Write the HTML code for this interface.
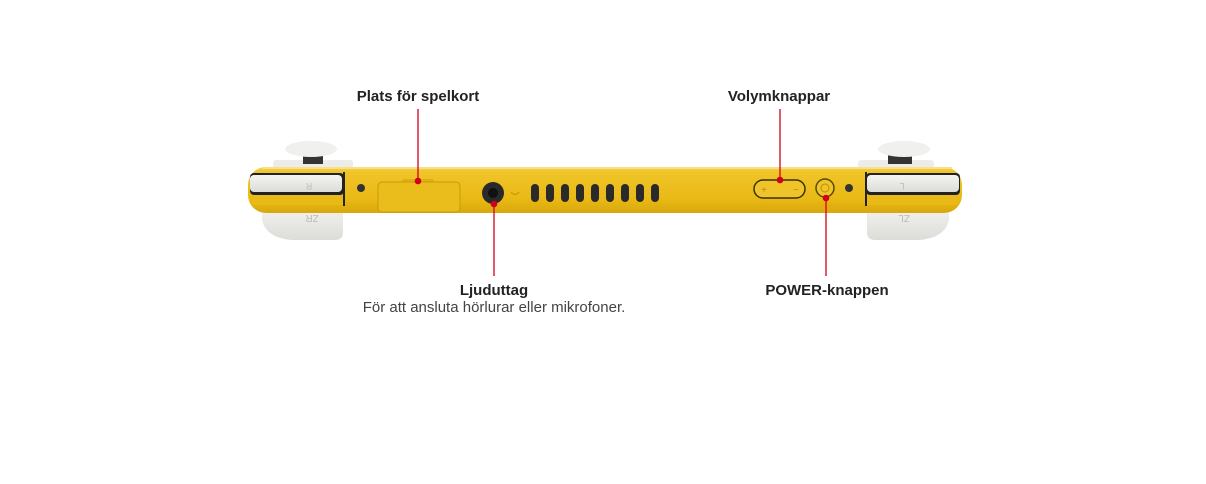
<!DOCTYPE html>
<html><head><meta charset="utf-8"><style>
body{margin:0;width:1206px;height:484px;background:#fff;position:relative;overflow:hidden;font-family:"Liberation Sans",sans-serif}
.a{position:absolute}
.lbl{position:absolute;font-weight:bold;font-size:15px;color:#222;transform:translateX(-50%);white-space:nowrap}
</style></head><body>
<svg class="a" style="left:0;top:0" width="1206" height="484">
<defs>
<linearGradient id="y" x1="0" y1="0" x2="0" y2="1">
<stop offset="0" stop-color="#f3d24a"/><stop offset="0.1" stop-color="#f0c52a"/><stop offset="0.7" stop-color="#e9b915"/><stop offset="1" stop-color="#d9a70c"/></linearGradient>
<linearGradient id="w" x1="0" y1="0" x2="0" y2="1"><stop offset="0" stop-color="#f4f4f2"/><stop offset="1" stop-color="#dcdcd8"/></linearGradient>
</defs>
<rect x="273" y="160" width="80" height="10" rx="3" fill="#ececea"/>
<rect x="858" y="160" width="76" height="10" rx="3" fill="#ececea"/>
<rect x="303" y="150" width="20" height="14" fill="#333"/>
<rect x="888" y="150" width="24" height="14" fill="#333"/>
<ellipse cx="311" cy="149" rx="26" ry="8" fill="#f0f0ee"/>
<ellipse cx="904" cy="149" rx="26" ry="8" fill="#f0f0ee"/>
<path d="M262 205 H343 V232 Q343 240 335 240 H292 Q266 238 262 220 Z" fill="url(#w)"/>
<path d="M867 205 H949 V220 Q945 238 919 240 H875 Q867 240 867 232 Z" fill="url(#w)"/>
<rect x="248" y="167" width="714" height="46" rx="18" fill="url(#y)"/>
<rect x="262" y="167" width="690" height="2" fill="#f7e08a"/>
<rect x="250" y="173" width="94" height="22" rx="4" fill="#222"/>
<rect x="250" y="175" width="92" height="17" rx="4" fill="url(#w)"/>
<rect x="252" y="196" width="92" height="9" fill="#e9b915"/>
<line x1="344" y1="172" x2="344" y2="206" stroke="#222" stroke-width="2"/>
<rect x="866" y="173" width="94" height="22" rx="4" fill="#222"/>
<rect x="867" y="175" width="92" height="17" rx="4" fill="url(#w)"/>
<rect x="866" y="196" width="92" height="9" fill="#e9b915"/>
<line x1="866" y1="172" x2="866" y2="206" stroke="#222" stroke-width="2"/>
<text x="309" y="189" font-size="9" fill="#bbb" text-anchor="middle" transform="rotate(180 309 186)">R</text>
<text x="902" y="189" font-size="9" fill="#bbb" text-anchor="middle" transform="rotate(180 902 186)">L</text>
<text x="312" y="223" font-size="10" fill="#bbb" text-anchor="middle" transform="rotate(180 312 219)">ZR</text>
<text x="904" y="223" font-size="10" fill="#bbb" text-anchor="middle" transform="rotate(180 904 219)">ZL</text>
<circle cx="361" cy="188" r="4" fill="#333"/>
<circle cx="849" cy="188" r="4" fill="#333"/>
<rect x="402" y="179" width="32" height="4" rx="2" fill="#e0b010"/>
<rect x="378" y="182" width="82" height="30" rx="4" fill="#ebbd1c" stroke="#c99a0a" stroke-width="1"/>
<circle cx="493" cy="193" r="11" fill="#2a2a2a"/>
<circle cx="493" cy="193" r="5" fill="#111"/>
<path d="M511 192 q4 5 8 0" stroke="#c9960a" stroke-width="1.2" fill="none"/>
<g fill="#2a2a2a">
<rect x="531" y="184" width="8" height="18" rx="4"/><rect x="546" y="184" width="8" height="18" rx="4"/><rect x="561" y="184" width="8" height="18" rx="4"/><rect x="576" y="184" width="8" height="18" rx="4"/><rect x="591" y="184" width="8" height="18" rx="4"/><rect x="606" y="184" width="8" height="18" rx="4"/><rect x="621" y="184" width="8" height="18" rx="4"/><rect x="636" y="184" width="8" height="18" rx="4"/><rect x="651" y="184" width="8" height="18" rx="4"/>
</g>
<rect x="754" y="180" width="51" height="18" rx="9" fill="#efc42a" stroke="#3a3000" stroke-width="1.5"/>
<text x="764" y="193" font-size="10" fill="#b8900a" text-anchor="middle">+</text>
<text x="796" y="193" font-size="10" fill="#b8900a" text-anchor="middle">−</text>
<circle cx="825" cy="188" r="9" fill="#efc42a" stroke="#5a4800" stroke-width="1.5"/>
<circle cx="825" cy="188" r="4" fill="none" stroke="#b8900a" stroke-width="1"/>
<g stroke="#d0021b" stroke-width="1.3">
<line x1="418" y1="109" x2="418" y2="181"/>
<line x1="780" y1="109" x2="780" y2="180"/>
<line x1="494" y1="204" x2="494" y2="276"/>
<line x1="826" y1="198" x2="826" y2="276"/>
</g>
<g fill="#d0021b">
<circle cx="418" cy="181" r="3.3"/><circle cx="780" cy="180" r="3.3"/><circle cx="494" cy="204" r="3.3"/><circle cx="826" cy="198" r="3.3"/>
</g>
</svg>
<div class="lbl" style="left:418px;top:88px">Plats för spelkort</div>
<div class="lbl" style="left:779px;top:88px">Volymknappar</div>
<div class="lbl" style="left:494px;top:282px">Ljuduttag</div>
<div class="a" style="left:494px;top:299px;transform:translateX(-50%);font-size:15px;color:#444;white-space:nowrap">För att ansluta hörlurar eller mikrofoner.</div>
<div class="lbl" style="left:827px;top:282px">POWER-knappen</div>
</body></html>
